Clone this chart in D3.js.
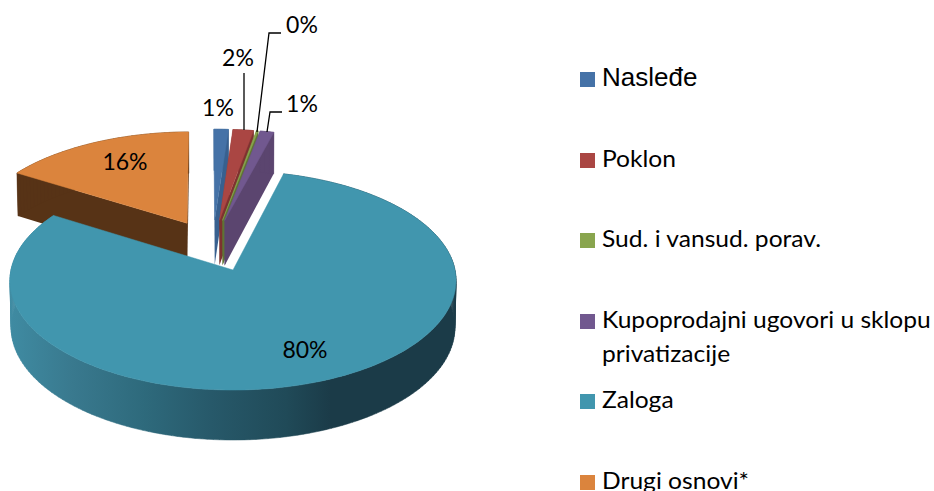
<!DOCTYPE html>
<html>
<head>
<meta charset="utf-8">
<script src="https://cdnjs.cloudflare.com/ajax/libs/d3/7.8.5/d3.min.js"></script>
<style>
  html, body { margin: 0; padding: 0; background: #fff; overflow: hidden; }
  text { fill: #000; font-family: Lato, sans-serif; }
</style>
</head>
<body>
<svg width="934" height="491"></svg>
<script>
// Chart values
const categories = ['Nasleđe', 'Poklon', 'Sud. i vansud. porav.', 'Kupoprodajni ugovori u sklopu privatizacije', 'Zaloga', 'Drugi osnovi*'];
const shares = [1.2, 1.7, 0.15, 1.15, 79.85, 15.95];
const shareLabels = ['1%', '2%', '0%', '1%', '80%', '16%'];

// Slice colours: top face and side wall
const topColors = ['#4572a7', '#aa4643', '#89a54e', '#71588f', '#4196ae', '#db843d'];
const wallColors = ['#38608f', '#7d3230', '#5f7434', '#5b456f', '#1b3b48', '#573316'];

// Layout
const cx = 233;
const cy = 270;
const radiusX = 222;
const radiusY = 108.5;
const persp = 0.096;
const explode = 0.25;
const rotation = -0.012;
const tealIndex = 4;

const labelPos = [[218, 116], [238, 66], [302, 33], [302, 112], [305, 358], [125, 170]];
const leaders = [
  null,
  [[244, 73], [244, 130]],
  [[281, 33], [269, 33], [257, 132]],
  [[282, 112], [270, 112], [267, 132]],
  null,
  null,
];
const legendTops = [72, 153, 233, 314, 394, 475];
const legendLines = [
  ['Nasleđe'],
  ['Poklon'],
  ['Sud. i vansud. porav.'],
  ['Kupoprodajni ugovori u sklopu', 'privatizacije'],
  ['Zaloga'],
  ['Drugi osnovi*'],
];

const svg = d3.select('svg');
const line = d3.line();

const slices = d3.pie().sort(null).startAngle(rotation).endAngle(rotation + 2 * Math.PI)(shares);
const midAngle = (d) => (d.startAngle + d.endAngle) / 2;
const direction = (a) => [Math.sin(a), -Math.cos(a)];

// The pie centre sits so that the big slice's apex lands on (cx, cy)
const tealDir = direction(midAngle(slices[tealIndex]));
const centre = [-explode * tealDir[0], -explode * tealDir[1]];

// Perspective projection of the disc plane, top and bottom face
const projectTop = ([u, v]) => [
  cx + radiusX * u / (1 - persp * v),
  cy + radiusY * v / (1 - persp * v),
];
const projectBottom = ([u, v]) => {
  const top = projectTop([u, v]);
  return [
    cx + 0.995 * radiusX * u / (1 - persp * v),
    top[1] + 46.5 + 3.5 * v,
  ];
};

// Plane coordinates of one slice: its apex and the sampled rim
function slicePlane(d) {
  const dir = direction(midAngle(d));
  const apex = [centre[0] + explode * dir[0], centre[1] + explode * dir[1]];
  const steps = Math.max(2, Math.ceil((d.endAngle - d.startAngle) * 40));
  const rim = d3.range(steps + 1).map((i) => {
    const a = d.startAngle + (d.endAngle - d.startAngle) * i / steps;
    const p = direction(a);
    return [apex[0] + p[0], apex[1] + p[1]];
  });
  return {apex, rim};
}

// Shading of the big slice's outer wall
const defs = svg.append('defs');
const rimGradient = defs.append('linearGradient')
  .attr('id', 'tealRim')
  .attr('gradientUnits', 'userSpaceOnUse')
  .attr('x1', 10).attr('x2', 456).attr('y1', 0).attr('y2', 0);
[[0, '#3f8ba2'], [0.14, '#39798e'], [0.3, '#2e6a7c'], [0.45, '#27596a'], [0.62, '#204a58'], [0.72, '#1b3b48'], [1, '#1b3b48']]
  .forEach(([o, c]) => rimGradient.append('stop').attr('offset', o).attr('stop-color', c));

// Paint back to front
const drawOrder = [5, 0, 1, 2, 3, 4];
const pie = svg.append('g').attr('class', 'pie');

drawOrder.forEach((i) => {
  const {apex, rim} = slicePlane(slices[i]);
  const wall = i === tealIndex ? 'url(#tealRim)' : wallColors[i];
  const first = rim[0];
  const last = rim[rim.length - 1];

  const edgeWalls = [[apex, first], [apex, last]].map(([a, b]) => [
    projectTop(a), projectTop(b), projectBottom(b), projectBottom(a),
  ]);

  if (i !== tealIndex) {
    edgeWalls.forEach((pts) => {
      pie.append('path').attr('d', line(pts) + 'Z').attr('fill', wall);
    });
  }
  // Rim wall as one quad per step, so its silhouette keeps the vertical sides
  const quads = d3.pairs(rim).map(([a, b]) => line([
    projectTop(a), projectTop(b), projectBottom(b), projectBottom(a),
  ]) + 'Z');
  pie.append('path')
    .attr('d', quads.join(''))
    .attr('fill', wall)
    .attr('stroke', wall)
    .attr('stroke-width', 0.5);
  pie.append('path')
    .attr('d', line([apex].concat(rim).map(projectTop)) + 'Z')
    .attr('fill', topColors[i])
    .attr('stroke', topColors[i])
    .attr('stroke-width', 0.5);
});

// Leader lines
leaders.forEach((pts) => {
  if (!pts) return;
  svg.append('path')
    .attr('d', line(pts))
    .attr('fill', 'none')
    .attr('stroke', '#000')
    .attr('stroke-width', 1.3);
});

// Value labels
shareLabels.forEach((t, i) => {
  svg.append('text')
    .attr('x', labelPos[i][0])
    .attr('y', labelPos[i][1])
    .attr('text-anchor', 'middle')
    .attr('font-size', 23)
    .text(t);
});

// Legend
categories.forEach((c, i) => {
  svg.append('rect')
    .attr('x', 580)
    .attr('y', legendTops[i])
    .attr('width', 15)
    .attr('height', 15)
    .attr('fill', topColors[i]);
  legendLines[i].forEach((t, j) => {
    const baseline = legendTops[i] + 14 + j * 34;
    svg.append('text')
      .attr('transform', i === 0 ? `translate(602,${baseline})` : `translate(602,${baseline}) scale(1.07,1)`)
      .attr('font-size', i === 0 ? 26 : 23)
      .style('font-family', i === 0 ? '"Liberation Sans", sans-serif' : null)
      .text(t);
  });
});
</script>
</body>
</html>
